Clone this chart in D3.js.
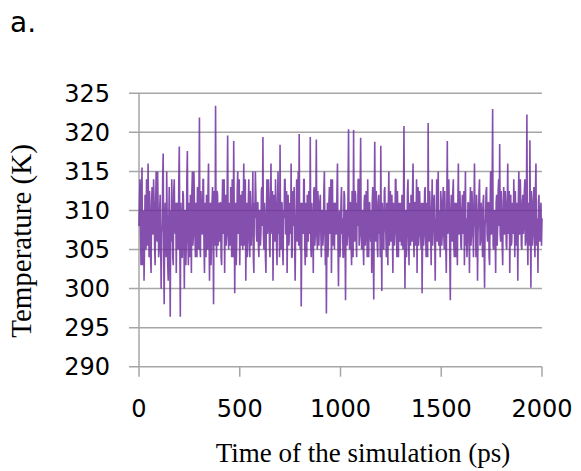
<!DOCTYPE html>
<html>
<head>
<meta charset="utf-8">
<script src="https://cdn.jsdelivr.net/npm/d3@7"></script>
<style>
  body { margin: 0; background: #fff; }
</style>
</head>
<body>
<script>
var w = 581;
var h = 471;

var timeStep = 2.5;
var temperature = [
    308,311, 314,307, 303,312.5, 315.5,303, 306,310, 301,305.5, 312,308, 305,314, 310,305.5, 316,310, 304,312.5, 309,304, 302,311, 313,307, 307,314, 311,305.5, 303,310, 315,307, 306,315, 310,304,
    305,310, 312,305.5, 300,307, 308,314, 317.3,304, 298,308, 311,307, 304,315, 309,303, 301,308, 313,305.5, 296.4,310, 306,314, 310,304, 303,312.5, 314,308, 307,311, 302,310, 311,305.5, 305,314,
    318.2,307, 296.4,311, 309,304, 304,312.5, 312,308, 300,310, 310,303, 306,314, 317.6,307, 303,311, 308,304, 312,308, 302,312.5, 315,305.5, 307,315, 311,307, 304,311, 309,304, 313,308, 305,312.5,
    321.9,305.5, 304,312.5, 310,307, 307,314, 314,305.5, 302,311, 309,304, 312,308, 305,312.5, 316,307, 301,310, 311,303, 306,311, 313,307, 298,312.5, 310,305.5, 323.4,308, 304,312.5, 312,305.5, 308,311,
    306,311, 311,304, 303,310, 314,307, 308,314, 302,308, 312,305.5, 307,312.5, 319.6,307, 305,311, 310,305.5, 313,308, 304,314, 309,304, 318.9,310, 299.4,307, 311,303, 306,312.5, 315,307, 308,314,
    303,308, 312,305.5, 309,312.5, 305,310, 316,305.5, 307,314, 301,308, 311,304, 306,311, 314,307, 304,312.5, 310,305.5, 308,310, 315,304, 302,311, 309,315, 312,307, 306,311, 311,305.5, 304,310,
    310,305.5, 307,312.5, 313,308, 319.4,307, 305,311, 309,304, 302,310, 314,307, 308,314, 311,305.5, 304,311, 316,308, 307,312.5, 301,307, 312,310, 306,314, 310,305.5, 303,311, 315,307, 309,304,
    318.4,308, 305,311, 311,305.5, 303,310, 309,314, 314,307, 307,312.5, 302,308, 312,305.5, 306,311, 310,307, 316,304, 304,312.5, 308,310, 313,305.5, 301,308, 310,314, 306,310, 315,305.5, 319.8,307,
    305,311, 297.7,305.5, 311,308, 307,314, 314,305.5, 303,311, 309,304, 312,308, 306,312.5, 310,307, 319.4,305.5, 304,311, 309,307, 302,312.5, 313,305.5, 307,310, 319.1,307, 305,312.5, 311,305.5, 308,311,
    312,307, 304,310, 310,305.5, 307,312.5, 315,308, 303,310, 296.8,307, 311,304, 306,311, 313,307, 309,314, 302,308, 314,305.5, 308,311, 305,310, 311,307, 307,312.5, 316,305.5, 300.3,308, 310,304,
    306,311, 313,307, 309,304, 304,312.5, 312,307, 298.5,310, 310,305.5, 307,312.5, 320.4,307, 305,311, 311,305.5, 303,312.5, 309,304, 320.3,308, 306,312.5, 312,307, 304,311, 308,314, 314,305.5, 307,312.5,
    319.3,307, 305,310, 310,305.5, 303,311, 312,305.5, 307,312.5, 309,304, 314,308, 304,311, 311,307, 306,310, 302,311, 313,305.5, 298.6,310, 318.8,307, 306,312.5, 310,305.5, 304,311, 312,307, 308,304,
    318.3,307, 299.7,311, 309,305.5, 305,312.5, 313,308, 307,304, 311,310, 303,311, 315,305.5, 308,312.5, 306,310, 312,307, 302,311, 310,305.5, 307,314, 314,308, 304,312.5, 309,304, 311,308, 306,311,
    308,305.5, 312,308, 305,311, 320.8,307, 300,310, 310,304, 307,312.5, 314,307, 303,311, 309,305.5, 312,308, 306,312.5, 316,307, 304,311, 311,305.5, 308,314, 302,310, 313,305.5, 307,312.5, 310,307,
    305,311, 299.4,307, 311,305.5, 307,312.5, 313,307, 304,311, 309,304, 321.2,308, 306,312.5, 310,307, 303,310, 314,305.5, 308,311, 312,307, 301,308, 309,314, 306,310, 315,305.5, 310,308, 304,312.5,
    311,305.5, 307,311, 313,307, 305,312.5, 309,305.5, 302,310, 318.9,307, 308,314, 310,304, 298.5,310, 312,307, 306,312.5, 314,305.5, 304,311, 309,304, 311,307, 303,311, 316,307, 307,312.5, 310,305.5,
    305,310, 312,307, 308,312.5, 303,308, 315,305.5, 309,304, 306,311, 311,307, 302,310, 313,305.5, 307,312.5, 310,307, 304,311, 316,308, 308,304, 312,310, 301,307, 309,312.5, 314,305.5, 306,311,
    310,307, 304,311, 312,305.5, 300.1,308, 309,312.5, 313,307, 306,311, 311,304, 303,310, 315,307, 307,312.5, 323,305.5, 305,310, 310,307, 302,311, 312,305.5, 308,312.5, 314,308, 318.5,307, 306,312.5,
    309,305.5, 303,311, 313,307, 307,312.5, 311,305.5, 305,310, 316,307, 308,312.5, 302,308, 312,305.5, 306,311, 310,307, 314,310, 304,312.5, 309,305.5, 311,308, 301,311, 315,307, 307,314, 310,305.5,
    305,311, 312,307, 308,312.5, 314,305.5, 306,310, 322.3,307, 303,311, 310,305.5, 319,308, 300.1,312.5, 311,305.5, 307,311, 313,307, 304,312.5, 316,305.5, 309,308, 302,311, 312,307, 306,310, 311,305.5,
    309
];

var yTicks = [290, 295, 300, 305, 310, 315, 320, 325];
var xTicks = [0, 500, 1000, 1500, 2000];

var svg = d3.select("body")
    .append("svg")
    .attr("width", w)
    .attr("height", h);

var xScale = d3.scaleLinear()
    .domain([0, 2000])
    .range([139, 542]);

var yScale = d3.scaleLinear()
    .domain([290, 325])
    .range([366.7, 93.3]);

// horizontal gridlines (they also act as the left ticks)
svg.append("g")
    .selectAll("line")
    .data(yTicks)
    .enter()
    .append("line")
    .attr("x1", 129)
    .attr("x2", xScale(2000))
    .attr("y1", function(d) { return yScale(d); })
    .attr("y2", function(d) { return yScale(d); })
    .style("stroke", "#a6a6a6")
    .style("stroke-width", 1.5);

// left axis line
svg.append("line")
    .attr("x1", xScale(0))
    .attr("x2", xScale(0))
    .attr("y1", yScale(325))
    .attr("y2", yScale(290))
    .style("stroke", "#a6a6a6")
    .style("stroke-width", 1.5);

// bottom ticks
svg.append("g")
    .selectAll("line")
    .data(xTicks)
    .enter()
    .append("line")
    .attr("x1", function(d) { return xScale(d); })
    .attr("x2", function(d) { return xScale(d); })
    .attr("y1", yScale(290))
    .attr("y2", yScale(290) + 10)
    .style("stroke", "#a6a6a6")
    .style("stroke-width", 1.5);

// temperature trace
var line = d3.line()
    .x(function(d, i) { return xScale(i * timeStep); })
    .y(function(d) { return yScale(d); });

svg.append("path")
    .datum(temperature)
    .attr("d", line)
    .style("fill", "none")
    .style("stroke", "#7030a0")
    .style("stroke-width", 1.6)
    .style("stroke-linejoin", "bevel")
    .style("stroke-opacity", 0.85);

// tick labels
svg.append("g")
    .selectAll("text")
    .data(yTicks)
    .enter()
    .append("text")
    .attr("x", 110)
    .attr("y", function(d) { return yScale(d); })
    .attr("dy", "0.36em")
    .attr("text-anchor", "end")
    .style("font-family", "DejaVu Sans")
    .style("font-size", "24px")
    .text(function(d) { return d; });

svg.append("g")
    .selectAll("text")
    .data(xTicks)
    .enter()
    .append("text")
    .attr("x", function(d) { return xScale(d); })
    .attr("y", 417)
    .attr("text-anchor", "middle")
    .style("font-family", "DejaVu Sans")
    .style("font-size", "24px")
    .text(function(d) { return d; });

// axis titles
svg.append("text")
    .attr("x", 363)
    .attr("y", 462)
    .attr("text-anchor", "middle")
    .style("font-family", "Liberation Serif")
    .style("font-size", "27px")
    .text("Time of the simulation (ps)");

svg.append("text")
    .attr("transform", "translate(31, 241) rotate(-90)")
    .attr("text-anchor", "middle")
    .style("font-family", "Liberation Serif")
    .style("font-size", "29px")
    .text("Temperature (K)");

// panel letter
svg.append("text")
    .attr("x", 10)
    .attr("y", 32)
    .style("font-family", "DejaVu Sans")
    .style("font-size", "28px")
    .text("a.");
</script>
</body>
</html>
